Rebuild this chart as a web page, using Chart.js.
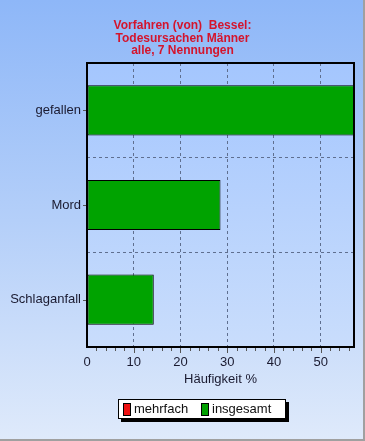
<!DOCTYPE html>
<html>
<head>
<meta charset="utf-8">
<script src="https://cdn.jsdelivr.net/npm/chart.js@4"></script>
<style>
  html, body { margin: 0; padding: 0; }
  body { width: 365px; height: 441px; overflow: hidden; font-family: "Liberation Sans", Arial, sans-serif; }
  .wrap { position: relative; width: 365px; height: 441px;
    background: linear-gradient(to bottom, #8eb7f8 0%, #b4cff9 50%, #dfeafb 100%); }
  canvas { position: absolute; left: 0; top: 0; }
  .title { position: absolute; left: 0; width: 365px; top: 19px; text-align: center;
    color: #d4142c; font-weight: bold; font-size: 12px; line-height: 12.5px; }
  .legend { position: absolute; left: 118px; top: 399px; width: 166px; height: 18px;
    background: #fff; border: 1px solid #000; box-shadow: 3px 3px 0 #000;
    font-size: 13px; color: #111; }
  .legend span { position: absolute; top: 1px; }
  .legend i { position: absolute; top: 3px; width: 6px; height: 11px; border: 1px solid #000; }
</style>
</head>
<body>
<div class="wrap">
  <canvas id="myChart" width="365" height="441"></canvas>
  <div class="title">Vorfahren (von)&nbsp; Bessel:<br>Todesursachen Männer<br>alle, 7 Nennungen</div>
  <div class="legend">
    <i style="left:4px;background:#ee1111"></i><span style="left:15px">mehrfach</span>
    <i style="left:82px;background:#00a000"></i><span style="left:93px">insgesamt</span>
  </div>
</div>
<script>
//! data
const categories = ["gefallen", "Mord", "Schlaganfall"];
const mehrfach = [0, 0, 0];
const insgesamt = [57.14, 28.57, 14.29];
const xTicks = [0, 10, 20, 30, 40, 50];
const xMax = 57.14;

//! plot area background, border and minor ticks
const plotDecor = {
  id: "plotDecor",
  beforeDraw(chart) {
    const a = chart.chartArea;
    const c = chart.ctx;
    const g = c.createLinearGradient(0, a.top, 0, a.bottom);
    g.addColorStop(0, "#a4c6fe");
    g.addColorStop(1, "#c9ddfc");
    c.save();
    c.fillStyle = g;
    c.fillRect(a.left, a.top, a.right - a.left, a.bottom - a.top);
    c.restore();
  },
  afterDraw(chart) {
    const a = chart.chartArea;
    const c = chart.ctx;
    const xs = chart.scales.x;
    const ys = chart.scales.y;
    c.save();
    c.strokeStyle = "#000";
    c.lineWidth = 2;
    c.strokeRect(a.left, a.top, a.right - a.left, a.bottom - a.top);
    c.lineWidth = 1;
    c.strokeStyle = "#555";
    // minor ticks under x axis
    for (let v = 2; v < xMax; v += 2) {
      const px = Math.round(xs.getPixelForValue(v)) + 0.5;
      const len = v % 10 === 0 ? 5 : 3;
      c.beginPath();
      c.moveTo(px, a.bottom + 1);
      c.lineTo(px, a.bottom + 1 + len);
      c.stroke();
    }
    // small ticks left of category labels
    for (let i = 0; i < categories.length; i++) {
      const py = Math.round(ys.getPixelForValue(i)) + 0.5;
      c.beginPath();
      c.moveTo(a.left - 4, py);
      c.lineTo(a.left - 1, py);
      c.stroke();
    }
    // outer frame
    c.strokeStyle = "#a0a0a0";
    c.lineWidth = 2;
    c.beginPath();
    c.moveTo(364, 0); c.lineTo(364, 440); c.lineTo(0, 440);
    c.stroke();
    c.restore();
  }
};

const ctx = document.getElementById("myChart");
const myChart = new Chart(ctx, {
  type: "bar",
  data: {
    labels: categories,
    datasets: [
      { label: "mehrfach", data: mehrfach, backgroundColor: "#ee1111", borderColor: "#000", borderWidth: 0,
        categoryPercentage: 1, barPercentage: 0.52 },
      { label: "insgesamt", data: insgesamt, backgroundColor: "#00a300", borderColor: "#000", borderWidth: 1,
        borderSkipped: false, categoryPercentage: 1, barPercentage: 0.53 }
    ]
  },
  options: {
    indexAxis: "y",
    responsive: false,
    animation: false,
    layout: { padding: { left: 0, right: 11, top: 63, bottom: 54 } },
    plugins: { legend: { display: false }, title: { display: false }, tooltip: { enabled: false } },
    scales: {
      x: {
        min: 0, max: xMax,
        afterBuildTicks(scale) { scale.ticks = xTicks.map(v => ({ value: v })); },
        afterFit(scale) { scale.height = 40; },
        border: { display: false, dash: [3, 3] },
        grid: { color: "#5f6f8f", lineWidth: 1, tickLength: 0, drawTicks: false },
        ticks: { color: "#1a1a30", font: { family: "Liberation Sans", size: 13 }, padding: 8 },
        title: { display: true, text: "Häufigkeit %", color: "#1a1a30",
          font: { family: "Liberation Sans", size: 13 }, padding: { top: 0, bottom: 0 } }
      },
      y: {
        stacked: true,
        afterFit(scale) { scale.width = 87; },
        border: { display: false, dash: [3, 3] },
        grid: { offset: true, color: "#5f6f8f", tickLength: 0, drawTicks: false },
        ticks: { color: "#1a1a30", font: { family: "Liberation Sans", size: 13 }, padding: 6 }
      }
    }
  },
  plugins: [plotDecor]
});
</script>
</body>
</html>
